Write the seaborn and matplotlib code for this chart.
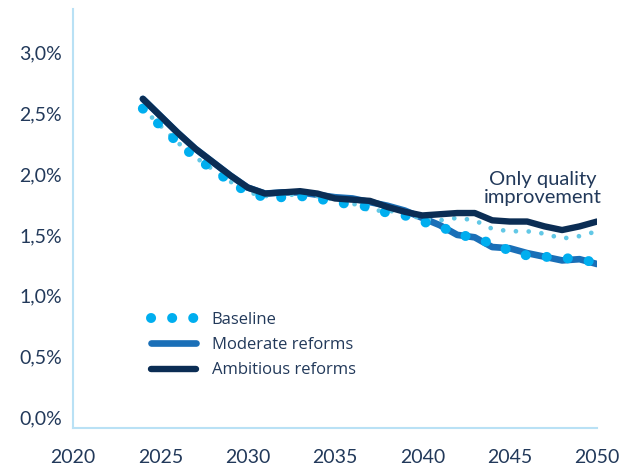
import matplotlib
matplotlib.use("Agg")
import matplotlib.pyplot as plt
import seaborn as sns
import pandas as pd

years = list(range(2024, 2051))
baseline = [2.54, 2.40, 2.26, 2.14, 2.04, 1.94, 1.85, 1.81, 1.81, 1.82, 1.80, 1.77, 1.75,
            1.73, 1.68, 1.66, 1.61, 1.57, 1.51, 1.47, 1.43, 1.37, 1.33, 1.32, 1.31, 1.30, 1.27]
quality_only = [2.54, 2.40, 2.26, 2.14, 2.04, 1.94, 1.85, 1.82, 1.82, 1.84, 1.82, 1.79, 1.76,
                1.70, 1.70, 1.68, 1.63, 1.62, 1.64, 1.62, 1.55, 1.53, 1.53, 1.51, 1.47, 1.49, 1.53]
moderate = [2.62, 2.48, 2.34, 2.21, 2.10, 1.99, 1.89, 1.84, 1.85, 1.85, 1.83, 1.81, 1.80,
            1.77, 1.74, 1.70, 1.64, 1.58, 1.50, 1.48, 1.40, 1.39, 1.35, 1.32, 1.29, 1.30, 1.26]
ambitious = [2.62, 2.48, 2.34, 2.21, 2.10, 1.99, 1.89, 1.84, 1.85, 1.86, 1.84, 1.80, 1.79,
             1.78, 1.73, 1.69, 1.66, 1.67, 1.68, 1.68, 1.62, 1.61, 1.61, 1.57, 1.54, 1.57, 1.61]
x_ticks = [2020, 2025, 2030, 2035, 2040, 2045, 2050]
y_ticks = [0.0, 0.5, 1.0, 1.5, 2.0, 2.5, 3.0]
y_labels = ["0,0%", "0,5%", "1,0%", "1,5%", "2,0%", "2,5%", "3,0%"]

df = pd.DataFrame({"year": years, "baseline": baseline, "quality": quality_only,
                   "moderate": moderate, "ambitious": ambitious})

sns.set_theme(style="white")
plt.rcParams['font.family'] = ['Lato', 'DejaVu Sans']

TEXT = "#22395a"
fig = plt.figure(figsize=(6.39, 4.72), dpi=100)
ax = fig.add_axes([73/639, 44/472, (597-73)/639, (428-9)/472])

sns.lineplot(data=df, x="year", y="moderate", ax=ax, color="#1a6fb7", lw=4.8,
             label="Moderate reforms")
sns.lineplot(data=df, x="year", y="quality", ax=ax, color="#62c8e6", lw=3.4,
             label="_nolegend_")
quality_line = ax.get_lines()[-1]
sns.lineplot(data=df, x="year", y="baseline", ax=ax, color="#00aeef", lw=7.2,
             label="Baseline")
base_line = ax.get_lines()[-1]
sns.lineplot(data=df, x="year", y="ambitious", ax=ax, color="#0b2d54", lw=4.6,
             label="Ambitious reforms")

quality_line.set_dashes((0.01, 2.7))
quality_line.set_dash_capstyle("round")
base_line.set_dashes((0.01, 2.1))
base_line.set_dash_capstyle("round")

ax.set_xlim(2020, 2050)
ax.set_ylim(-0.09, 3.36)
ax.set_xticks(x_ticks)
ax.set_xticklabels([str(t) for t in x_ticks])
ax.set_yticks(y_ticks)
ax.set_yticklabels(y_labels)
ax.set_xlabel("")
ax.set_ylabel("")
ax.tick_params(axis="both", length=0, colors=TEXT, labelsize=14)
ax.tick_params(axis="x", pad=15)
ax.tick_params(axis="y", pad=8)
for s in ["top", "right"]:
    ax.spines[s].set_visible(False)
for s in ["left", "bottom"]:
    ax.spines[s].set_color("#b9e1f5")
    ax.spines[s].set_linewidth(1.5)

handles, labels = ax.get_legend_handles_labels()
order = [labels.index("Baseline"), labels.index("Moderate reforms"), labels.index("Ambitious reforms")]
leg = ax.legend([handles[i] for i in order], [labels[i] for i in order],
                loc="upper left", bbox_to_anchor=((136-73)/524, (428-297)/419),
                frameon=False, handlelength=2.7, handletextpad=0.95,
                labelspacing=0.55, prop={"family": "Open Sans", "size": 12})
for t in leg.get_texts():
    t.set_color(TEXT)

ax.text(2046.9, 1.88, "Only quality\nimprovement", ha="center", va="center",
        fontsize=14.5, color=TEXT, linespacing=1.1)

fig.savefig("out.png", dpi=100)
